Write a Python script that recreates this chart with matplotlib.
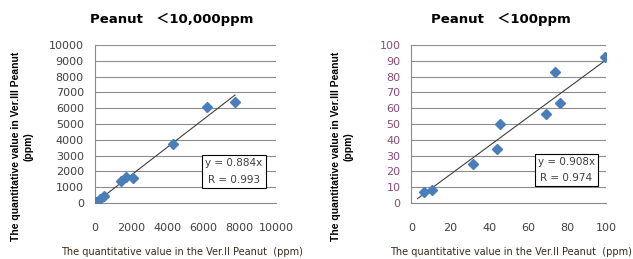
import numpy as np
import matplotlib.pyplot as plt

# data
hi_x = [60, 300, 520, 1450, 1700, 2100, 4330, 6170, 7735]
hi_y = [40, 250, 420, 1400, 1650, 1600, 3730, 6090, 6410]
hi_slope = 0.884
hi_r = 0.993

lo_x = [6.2, 10.7, 31.7, 43.8, 45.6, 68.9, 73.8, 76.1, 99.1]
lo_y = [6.7, 8.4, 24.6, 34.1, 50.1, 56.4, 83.1, 63.2, 92.2]
lo_slope = 0.908
lo_r = 0.974

hi_ticks = np.arange(0, 10001, 1000)
hi_xticks = np.arange(0, 10001, 2000)
lo_ticks = np.arange(0, 101, 10)
lo_xticks = np.arange(0, 101, 20)

blue = '#4a7ebb'
grid = '#8c8c8c'
tickc = '#404040'

fig = plt.figure(figsize=(6.33, 2.59), dpi=100)
fig.patch.set_facecolor('white')

def panel(rect, xs, ys, slope, r, xmax, yt, xt, title, ylabc, box_xy, title_x, ylab_x):
    ax = fig.add_axes(rect)
    ax.set_xlim(0, xmax)
    ax.set_ylim(0, yt[-1])
    ax.set_yticks(yt)
    ax.set_xticks(xt)
    ax.grid(axis='y', color=grid, lw=0.8)
    ax.set_axisbelow(True)
    for s in ['top', 'right']:
        ax.spines[s].set_visible(False)
    ax.spines['left'].set_color(grid)
    ax.spines['bottom'].set_color(grid)
    ax.tick_params(length=0, labelsize=8)
    ax.tick_params(axis='x', pad=14, colors=tickc)
    ax.tick_params(axis='y', pad=8, colors=ylabc)
    xs = np.array(xs)
    lx = np.array([xs.min() * 0.5, xs.max()])
    ax.plot(lx, slope * lx, color='#404040', lw=0.8, zorder=2)
    ax.plot(xs, ys, 'D', color=blue, ms=5.5, mec=blue, zorder=3)
    ax.text(box_xy[0], box_xy[1], f'y = {slope}x\nR = {r}', transform=ax.transAxes,
            ha='center', va='center', fontsize=7.5, color='#404040', linespacing=1.8,
            bbox=dict(boxstyle='square,pad=0.3', fc='white', ec='black', lw=0.8))
    fig.text(title_x, 0.925, title, ha='center', va='center', fontsize=9.5,
             fontweight='bold', family=['DejaVu Sans', 'Noto Sans CJK JP'])
    fig.text(ylab_x, 0.435, 'The quantitative value in Ver.III Peanut\n(ppm)',
             rotation=90, ha='center', va='center', fontsize=7.5, fontweight='bold',
             family=['Liberation Sans Narrow', 'Liberation Sans'], linespacing=1.3)
    fig.text(title_x + 0.015, 0.028, 'The quantitative value in the Ver.II Peanut  (ppm)',
             ha='center', va='center', fontsize=7, color='#3a2a1a')
    return ax

panel([0.150, 0.216, 0.286, 0.610], hi_x, hi_y, hi_slope, hi_r, 10000,
      hi_ticks, hi_xticks, 'Peanut　＜10,000ppm', tickc, (0.768, 0.20), 0.272, 0.035)
panel([0.650, 0.216, 0.308, 0.610], lo_x, lo_y, lo_slope, lo_r, 100,
      lo_ticks, lo_xticks, 'Peanut　＜100ppm', '#8a4a7a', (0.794, 0.21), 0.792, 0.54)

fig.savefig('out.png', dpi=100)
